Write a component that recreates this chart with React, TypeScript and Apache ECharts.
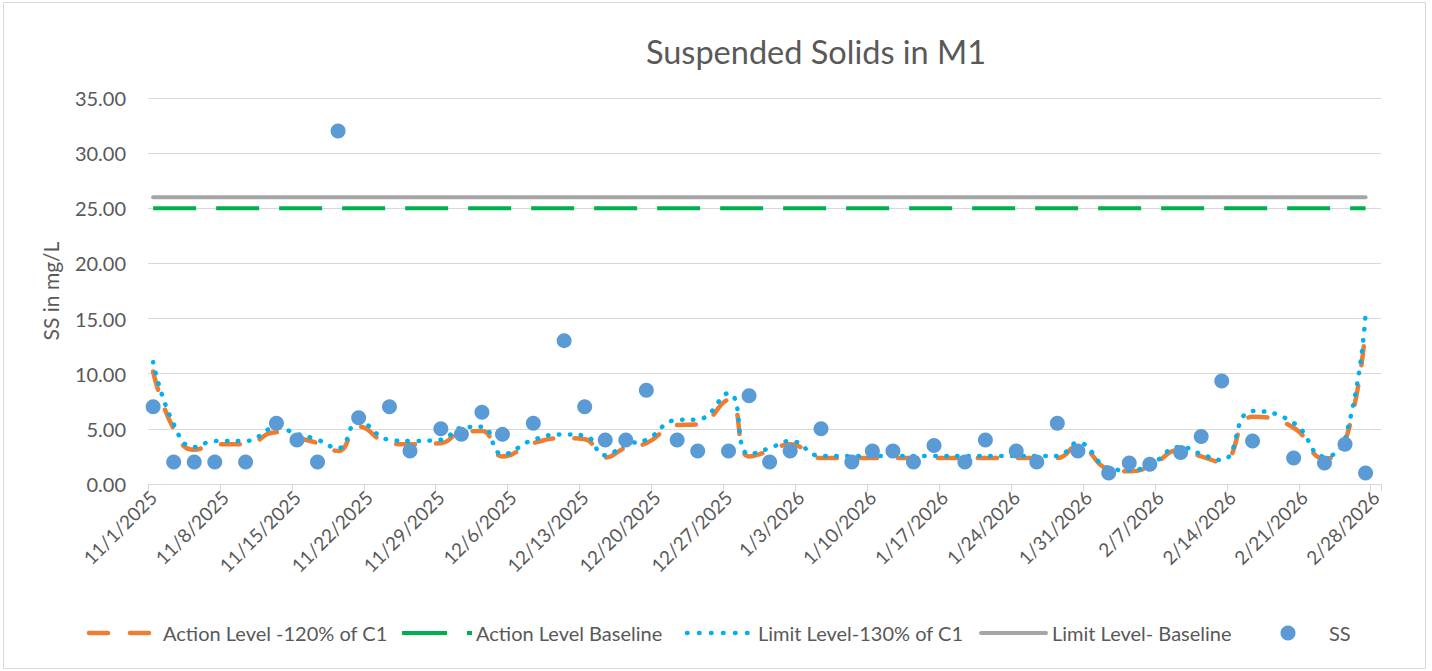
import React, { useEffect, useRef } from 'react';
import * as echarts from 'echarts';

const FONT = 'Lato, "Open Sans", sans-serif';
const TEXT = '#595959';
const GRID = '#D9D9D9';

// Axis domain: one category per day, 11/1/2025 .. 2/28/2026
const axisStart = { y: 2025, m: 10, d: 1 };
const axisDays = 120;
const dayLabels: string[] = [];
for (let i = 0; i < axisDays; i++) {
  const dt = new Date(Date.UTC(axisStart.y, axisStart.m, axisStart.d + i));
  dayLabels.push(`${dt.getUTCMonth() + 1}/${dt.getUTCDate()}/${dt.getUTCFullYear()}`);
}

const sampleDates = [
  '11/1/2025', '11/3/2025', '11/5/2025', '11/7/2025', '11/10/2025', '11/13/2025', '11/15/2025', '11/17/2025',
  '11/19/2025', '11/21/2025', '11/24/2025', '11/26/2025', '11/29/2025', '12/1/2025', '12/3/2025', '12/5/2025',
  '12/8/2025', '12/11/2025', '12/13/2025', '12/15/2025', '12/17/2025', '12/19/2025', '12/22/2025', '12/24/2025',
  '12/27/2025', '12/29/2025', '12/31/2025', '1/2/2026', '1/5/2026', '1/8/2026', '1/10/2026', '1/12/2026',
  '1/14/2026', '1/16/2026', '1/19/2026', '1/21/2026', '1/24/2026', '1/26/2026', '1/28/2026', '1/30/2026',
  '2/2/2026', '2/4/2026', '2/6/2026', '2/9/2026', '2/11/2026', '2/13/2026', '2/16/2026', '2/20/2026',
  '2/23/2026', '2/25/2026', '2/27/2026',
];

const ssValues = [
  7.0, 2.0, 2.0, 2.0, 2.0, 5.5, 4.0, 2.0,
  32.0, 6.0, 7.0, 3.0, 5.0, 4.5, 6.5, 4.5,
  5.5, 13.0, 7.0, 4.0, 4.0, 8.5, 4.0, 3.0,
  3.0, 8.0, 2.0, 3.0, 5.0, 2.0, 3.0, 3.0,
  2.0, 3.5, 2.0, 4.0, 3.0, 2.0, 5.5, 3.0,
  1.0, 1.9, 1.8, 2.85, 4.3, 9.35, 3.9, 2.35,
  1.9, 3.6, 1.0,
];

const actionLevel = [
  10.2, 5.0, 3.1, 3.6, 3.6, 4.7, 4.2, 3.7,
  3.0, 5.2, 3.7, 3.6, 3.7, 4.7, 4.8, 2.5,
  3.7, 4.15, 4.05, 2.4, 3.3, 3.7, 5.35, 5.4,
  7.6, 2.5, 3.0, 3.6, 2.35, 2.35, 2.35, 2.35,
  2.35, 2.35, 2.35, 2.35, 2.35, 2.35, 2.35, 3.45,
  1.35, 1.15, 1.6, 3.1, 2.5, 2.0, 6.1, 5.1,
  2.3, 3.8, 14.3,
];

const limitLevel = [
  11.05, 5.42, 3.36, 3.9, 3.9, 5.09, 4.55, 4.01,
  3.25, 5.63, 4.01, 3.9, 4.01, 5.09, 5.2, 2.71,
  4.01, 4.5, 4.39, 2.6, 3.58, 4.01, 5.8, 5.85,
  8.23, 2.71, 3.25, 3.9, 2.55, 2.55, 2.55, 2.55,
  2.55, 2.55, 2.55, 2.55, 2.55, 2.55, 2.55, 3.74,
  1.46, 1.25, 1.73, 3.36, 2.71, 2.17, 6.61, 5.53,
  2.49, 4.12, 15.49,
];

const baselineDates = ['11/1/2025', '2/27/2026'];
const actionBaseline = [25, 25];
const limitBaseline = [26, 26];

const yTicks = { min: 0, max: 35, interval: 5 };

const seriesNames = [
  'Action Level -120% of C1',
  'Action Level Baseline',
  'Limit Level-130% of C1',
  'Limit Level- Baseline',
  'SS',
];

const COLORS = {
  action: '#ED7D31',
  actionBase: '#00B050',
  limit: '#00B0F0',
  limitBase: '#A5A5A5',
  ss: '#5B9BD5',
};

const DASH_ACTION = [19, 21];
const DASH_BASE = [43, 20];
const DASH_DOT = [0.5, 10.5];

const pairs = (dates: string[], vals: number[]) => dates.map((d, i) => [d, vals[i]]);

function legendGraphics() {
  const y = 633;
  const txt = (x: number, text: string) => ({
    type: 'text',
    x,
    y,
    silent: true,
    style: {
      text,
      fontFamily: FONT,
      fontSize: 20,
      fill: TEXT,
      verticalAlign: 'middle',
      align: 'left',
    },
  });
  const ln = (x1: number, x2: number, stroke: string, width: number, dash: any, cap: string) => ({
    type: 'line',
    silent: true,
    shape: { x1, y1: y, x2, y2: y },
    style: { stroke, lineWidth: width, lineDash: dash, lineCap: cap },
  });
  return [
    ln(89, 149, COLORS.action, 4.5, [19, 22], 'round'),
    txt(163, seriesNames[0]),
    ln(402, 472, COLORS.actionBase, 4, [45, 20], 'butt'),
    txt(476, seriesNames[1]),
    ln(687, 748, COLORS.limit, 4.5, [0.5, 11.5], 'round'),
    txt(758, seriesNames[2]),
    ln(981, 1046, COLORS.limitBase, 4, null, 'round'),
    txt(1052, seriesNames[3]),
    {
      type: 'circle',
      silent: true,
      shape: { cx: 1288, cy: y, r: 7.5 },
      style: { fill: COLORS.ss },
    },
    txt(1329, seriesNames[4]),
  ];
}

export default function App() {
  const ref = useRef<HTMLDivElement>(null);
  useEffect(() => {
    const chart = echarts.init(ref.current!, null, { renderer: 'svg' });
    const option: any = {
      animation: false,
      backgroundColor: '#ffffff',
      textStyle: { fontFamily: FONT },
      title: {
        text: 'Suspended Solids in M1',
        left: 811,
        top: 30,
        textAlign: 'center',
        textStyle: { fontFamily: FONT, fontSize: 32.5, fontWeight: 'normal', color: TEXT },
      },
      graphic: [
        {
          type: 'rect',
          silent: true,
          z: -10,
          shape: { x: 3.5, y: 2.5, width: 1422, height: 666 },
          style: { fill: 'none', stroke: GRID, lineWidth: 1 },
        },
        ...legendGraphics(),
      ],
      grid: { left: 148, right: 51, top: 98, bottom: 187, containLabel: false },
      xAxis: {
        type: 'category',
        data: dayLabels,
        boundaryGap: true,
        axisLine: { show: true, lineStyle: { color: GRID, width: 1 } },
        axisTick: { show: true, interval: 6, length: 7, lineStyle: { color: GRID } },
        axisLabel: {
          interval: 6,
          rotate: 45,
          margin: 10,
          fontFamily: FONT,
          fontSize: 19,
          color: TEXT,
        },
        splitLine: { show: false },
      },
      yAxis: {
        type: 'value',
        min: yTicks.min,
        max: yTicks.max,
        interval: yTicks.interval,
        name: 'SS in mg/L',
        nameLocation: 'middle',
        nameGap: 87,
        nameTextStyle: { fontFamily: FONT, fontSize: 21, color: TEXT },
        axisLine: { show: false },
        axisTick: { show: false },
        axisLabel: {
          margin: 22,
          fontFamily: FONT,
          fontSize: 20,
          color: TEXT,
          formatter: (v: number) => v.toFixed(2),
        },
        splitLine: { show: true, lineStyle: { color: GRID, width: 1 } },
      },
      series: [
        {
          name: seriesNames[0],
          type: 'line',
          data: pairs(sampleDates, actionLevel),
          smooth: 0.5,
          symbol: 'none',
          lineStyle: { color: COLORS.action, width: 4.5, type: DASH_ACTION, cap: 'round' },
          itemStyle: { color: COLORS.action },
          z: 2,
        },
        {
          name: seriesNames[1],
          type: 'line',
          data: pairs(baselineDates, actionBaseline),
          symbol: 'none',
          lineStyle: { color: COLORS.actionBase, width: 4, type: DASH_BASE, cap: 'butt' },
          itemStyle: { color: COLORS.actionBase },
          z: 2,
        },
        {
          name: seriesNames[2],
          type: 'line',
          data: pairs(sampleDates, limitLevel),
          smooth: 0.5,
          symbol: 'none',
          lineStyle: { color: COLORS.limit, width: 4.5, type: DASH_DOT, cap: 'round' },
          itemStyle: { color: COLORS.limit },
          z: 3,
        },
        {
          name: seriesNames[3],
          type: 'line',
          data: pairs(baselineDates, limitBaseline),
          symbol: 'none',
          lineStyle: { color: COLORS.limitBase, width: 4, type: 'solid', cap: 'round' },
          itemStyle: { color: COLORS.limitBase },
          z: 2,
        },
        {
          name: seriesNames[4],
          type: 'scatter',
          data: pairs(sampleDates, ssValues),
          symbol: 'circle',
          symbolSize: 15,
          itemStyle: { color: COLORS.ss, opacity: 1 },
          z: 4,
        },
      ],
    };
    chart.setOption(option);
    return () => chart.dispose();
  }, []);
  return (
    <div
      ref={ref}
      style={{ position: 'fixed', left: 0, top: 0, width: 1432, height: 671, background: '#fff' }}
    />
  );
}
